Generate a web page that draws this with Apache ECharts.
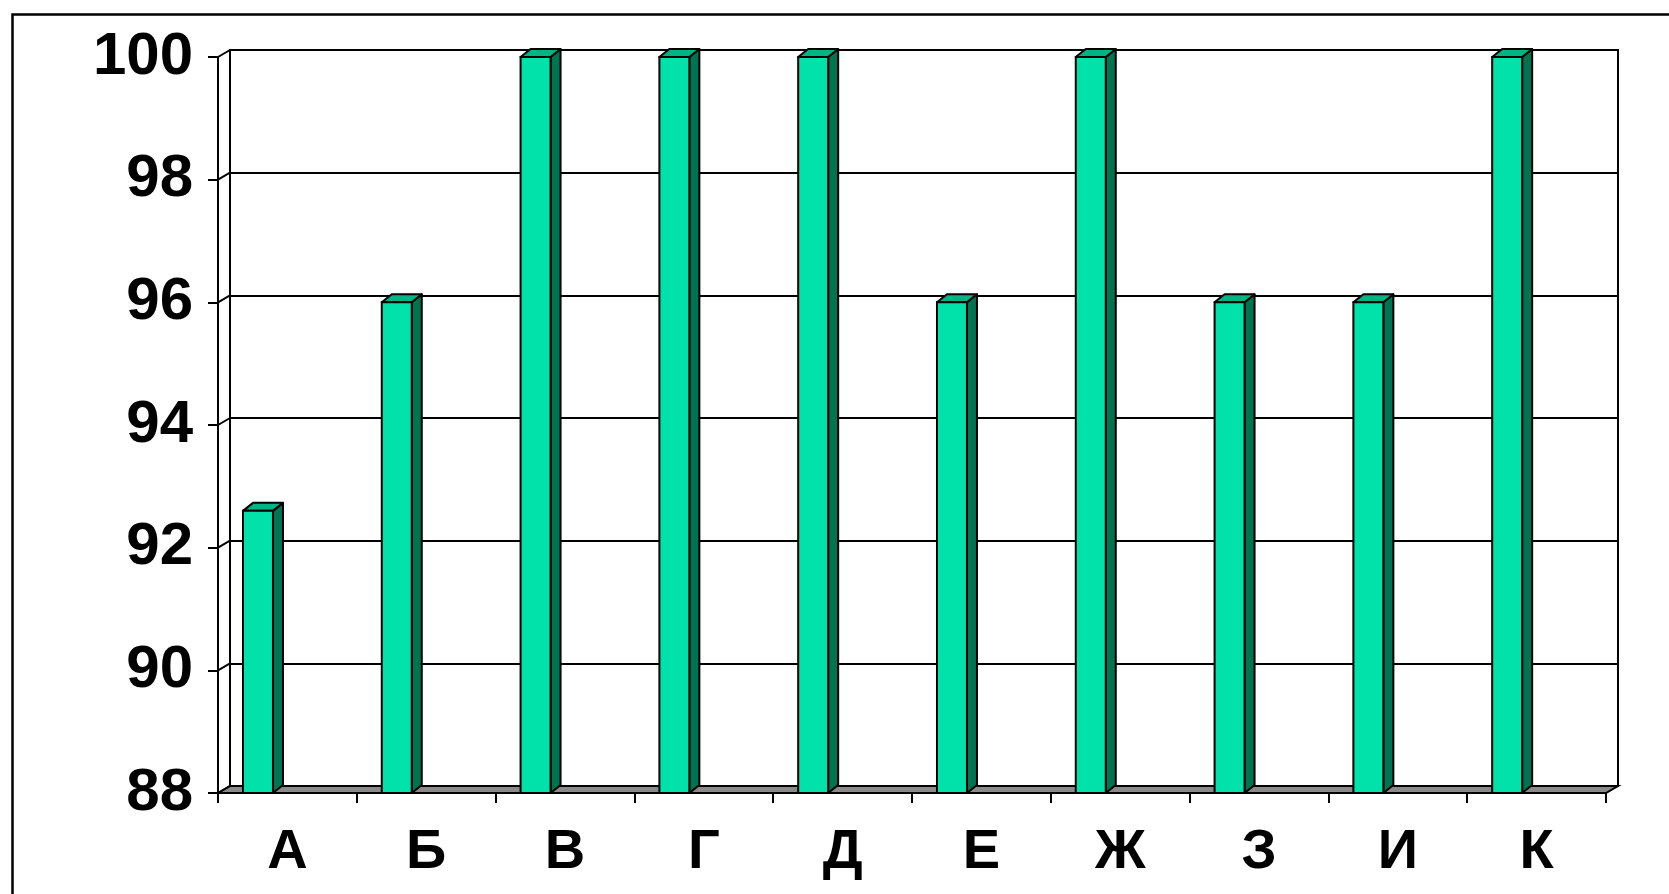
<!DOCTYPE html>
<html><head><meta charset="utf-8">
<script src="https://cdn.jsdelivr.net/npm/echarts@6/dist/echarts.min.js"></script>
<style>html,body{margin:0;padding:0;background:#fff}#c{width:1669px;height:894px}</style>
</head><body><div id="c"></div>
<script>
// ---- data ----
const categories = ['А', 'Б', 'В', 'Г', 'Д', 'Е', 'Ж', 'З', 'И', 'К'];
const values = [92.6, 96, 100, 100, 100, 96, 100, 96, 96, 100];
const yTicks = [88, 90, 92, 94, 96, 98, 100];
const Y_MIN = 88, Y_MAX = 100, Y_STEP = 2;

// ---- style ----
const DX = 12, DY = -7;      // depth of walls
const BDX = 10, BDY = -8;    // depth of bars
const BAR_OFF = 0.18, BAR_W = 0.216; // bar position inside category slot (fractions)
const FONT = '"Liberation Sans", Arial, sans-serif';
const C_FRONT = '#00E2AA', C_TOP = '#00B384', C_SIDE = '#007351', C_FLOOR = '#8a8a8a';

const chart = echarts.init(document.getElementById('c'), null, { renderer: 'canvas' });
const front = { left: 218, right: 63, top: 57, bottom: 101 };
const back = { left: front.left + DX, right: front.right - DX, top: front.top + DY, bottom: front.bottom - DY };

const option = {
  backgroundColor: '#fff',
  animation: false,
  graphic: [{
    type: 'rect', left: 10, top: 12, z: -10, silent: true,
    shape: { width: 1700, height: 900 },
    style: { fill: 'none', stroke: '#000', lineWidth: 2.5 }
  }],
  grid: [
    Object.assign({ show: true, backgroundColor: '#fff', borderColor: '#000', borderWidth: 2, containLabel: false, outerBoundsMode: 'none' }, back),
    Object.assign({ show: false, containLabel: false, outerBoundsMode: 'none' }, front)
  ],
  xAxis: [
    { gridIndex: 0, type: 'category', data: categories, show: false },
    {
      gridIndex: 1, type: 'category', data: categories, boundaryGap: true,
      axisLine: { show: true, lineStyle: { color: '#000', width: 2 } },
      axisTick: { show: true, interval: 0, length: 10, inside: false, lineStyle: { color: '#000', width: 2 } },
      axisLabel: { show: true, interval: 0, margin: 32, color: '#000', fontFamily: FONT, fontWeight: 'bold', fontSize: 56 },
      splitLine: { show: false }
    }
  ],
  yAxis: [
    {
      gridIndex: 0, type: 'value', min: Y_MIN, max: Y_MAX, interval: Y_STEP,
      axisLine: { show: false }, axisTick: { show: false }, axisLabel: { show: false },
      splitLine: { show: true, lineStyle: { color: '#000', width: 2 } }
    },
    {
      gridIndex: 1, type: 'value', min: Y_MIN, max: Y_MAX, interval: Y_STEP,
      axisLine: { show: true, lineStyle: { color: '#000', width: 2 } },
      axisTick: { show: true, length: 10, inside: false, lineStyle: { color: '#000', width: 2 } },
      axisLabel: { show: true, margin: 25, color: '#000', fontFamily: FONT, fontWeight: 'bold', fontSize: 60,
        padding: [8, 0, 0, 0],
        formatter: v => yTicks.includes(v) ? String(v) : '' },
      splitLine: { show: false }
    }
  ],
  series: [
    { // floor
      type: 'custom', xAxisIndex: 1, yAxisIndex: 1, z: 3, silent: true,
      data: [[0, Y_MIN]],
      renderItem: function (params, api) {
        const cs = params.coordSys;
        const by = api.coord([0, Y_MIN])[1];
        return {
          type: 'polygon',
          shape: { points: [[cs.x, by], [cs.x + cs.width, by], [cs.x + cs.width + DX, by + DY], [cs.x + DX, by + DY]] },
          style: { fill: C_FLOOR, stroke: '#000', lineWidth: 2 }
        };
      }
    },
    { // side wall connectors
      type: 'custom', xAxisIndex: 1, yAxisIndex: 1, z: 3, silent: true,
      data: yTicks.map(v => [0, v]),
      renderItem: function (params, api) {
        const cs = params.coordSys;
        const y = api.coord([0, api.value(1)])[1];
        return {
          type: 'line',
          shape: { x1: cs.x, y1: y, x2: cs.x + DX, y2: y + DY },
          style: { stroke: '#000', lineWidth: 2 }
        };
      }
    },
    { // back wall left edge
      type: 'custom', xAxisIndex: 1, yAxisIndex: 1, z: 3, silent: true,
      data: [[0, Y_MAX]],
      renderItem: function (params, api) {
        const cs = params.coordSys;
        const yt = api.coord([0, Y_MAX])[1], yb = api.coord([0, Y_MIN])[1];
        return {
          type: 'line',
          shape: { x1: cs.x + DX, y1: yt + DY, x2: cs.x + DX, y2: yb + DY },
          style: { stroke: '#000', lineWidth: 2 }
        };
      }
    },
    { // 3D bars
      type: 'custom', xAxisIndex: 1, yAxisIndex: 1, z: 5,
      data: values.map((v, i) => [i, v]),
      renderItem: function (params, api) {
        const i = api.value(0), v = api.value(1);
        const top = api.coord([i, v]);
        const base = api.coord([i, Y_MIN]);
        const cw = api.size([1, 0])[0];
        const x0 = top[0] - cw / 2 + cw * BAR_OFF;
        const w = cw * BAR_W;
        const yt = top[1], yb = base[1];
        return {
          type: 'group',
          children: [
            { type: 'polygon', shape: { points: [[x0 + w, yt], [x0 + w + BDX, yt + BDY], [x0 + w + BDX, yb + BDY], [x0 + w, yb]] },
              style: { fill: C_SIDE, stroke: '#000', lineWidth: 2, lineJoin: 'round' } },
            { type: 'polygon', shape: { points: [[x0, yt], [x0 + BDX, yt + BDY], [x0 + w + BDX, yt + BDY], [x0 + w, yt]] },
              style: { fill: C_TOP, stroke: '#000', lineWidth: 2, lineJoin: 'round' } },
            { type: 'rect', shape: { x: x0, y: yt, width: w, height: yb - yt },
              style: { fill: C_FRONT, stroke: '#000', lineWidth: 2 } }
          ]
        };
      }
    }
  ]
};
chart.setOption(option);
</script>
</body></html>
